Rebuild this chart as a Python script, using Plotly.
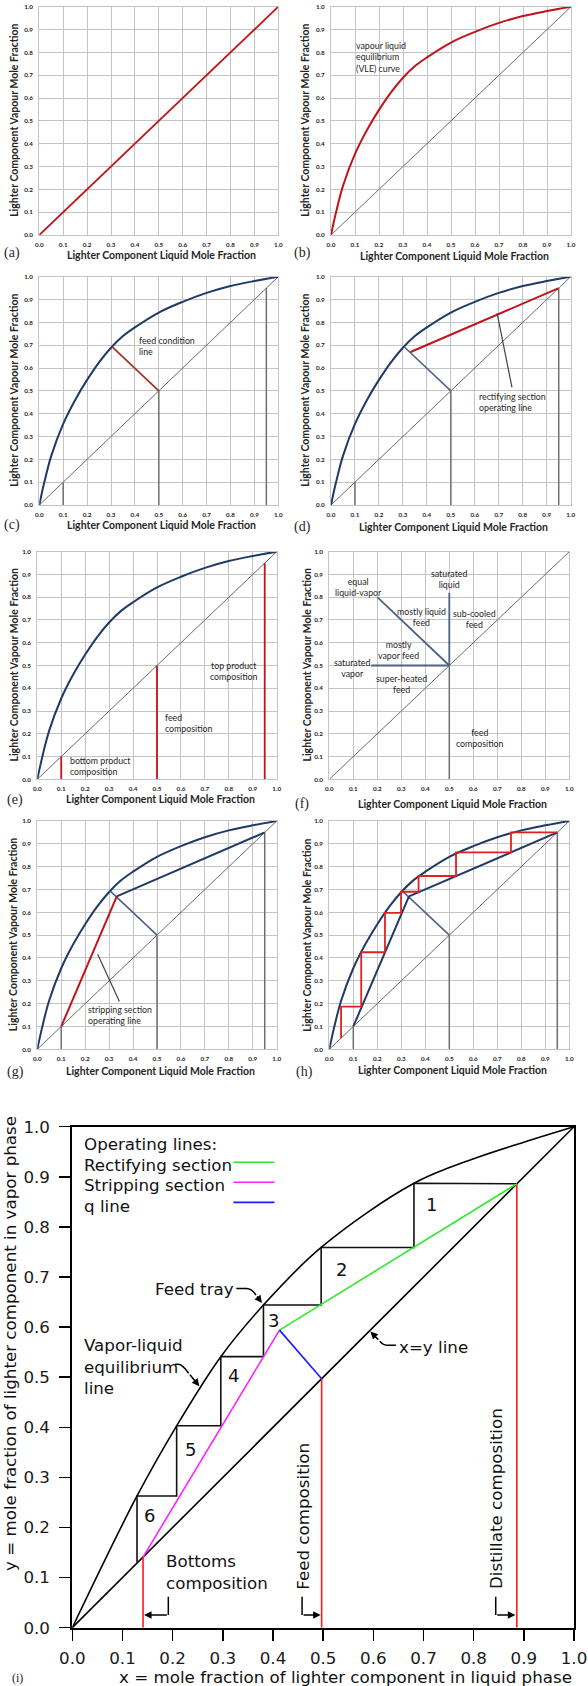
import plotly.graph_objects as go

W, H = 588, 1686

# ---------------- data: panels (a)-(h) ----------------
grid_ticks = [0.0, 0.1, 0.2, 0.3, 0.4, 0.5, 0.6, 0.7, 0.8, 0.9, 1.0]
tick_labels = ["0.0", "0.1", "0.2", "0.3", "0.4", "0.5", "0.6", "0.7", "0.8", "0.9", "1.0"]

diag_x = [0.0, 1.0]
diag_y = [0.0, 1.0]

vle_x = [0.0, 0.02, 0.05, 0.1, 0.15, 0.2, 0.25, 0.3, 0.35, 0.4, 0.5, 0.6, 0.7, 0.8, 0.9, 1.0]
vle_y = [0.0, 0.095, 0.215, 0.355, 0.46, 0.548, 0.625, 0.689, 0.74, 0.778, 0.843, 0.89, 0.929, 0.959, 0.981, 1.0]

x_bottom = 0.1
x_feed = 0.5
x_top = 0.95

q_x = [0.5, 0.305]
q_y = [0.5, 0.693]

rect_x = [0.332, 0.95]
rect_y = [0.67, 0.95]

strip_x = [0.1, 0.332]
strip_y = [0.1, 0.67]

stair_x = [0.95, 0.757, 0.757, 0.528, 0.528, 0.372, 0.372, 0.299, 0.299, 0.232, 0.232, 0.133, 0.133, 0.049, 0.049]
stair_y = [0.95, 0.95, 0.863, 0.863, 0.759, 0.759, 0.69, 0.69, 0.598, 0.598, 0.425, 0.425, 0.187, 0.187, 0.048]

# (f) feed condition lines
f_liquid_x = [0.5, 0.5]
f_liquid_y = [0.5, 0.82]
f_equal_x = [0.5, 0.2]
f_equal_y = [0.5, 0.8]
f_vapor_x = [0.5, 0.175]
f_vapor_y = [0.5, 0.5]

# ---------------- data: panel (i) ----------------
vle_i_x = [0.0, 0.129, 0.208, 0.296, 0.381, 0.496, 0.681, 0.8, 0.9, 1.0]
vle_i_y = [0.0, 0.263, 0.403, 0.541, 0.644, 0.759, 0.887, 0.936, 0.969, 1.0]

steps_i_x = [0.886, 0.681, 0.681, 0.496, 0.496, 0.381, 0.381, 0.296, 0.296, 0.208, 0.208, 0.129, 0.129]
steps_i_y = [0.886, 0.887, 0.759, 0.759, 0.644, 0.644, 0.541, 0.541, 0.403, 0.403, 0.263, 0.263, 0.13]

x_B = 0.141
x_F = 0.497
x_D = 0.886
q_i_x = [0.497, 0.413]
q_i_y = [0.497, 0.594]
rect_i_x = [0.413, 0.886]
rect_i_y = [0.594, 0.886]
strip_i_x = [0.141, 0.413]
strip_i_y = [0.141, 0.594]

stage_labels = ["1", "2", "3", "4", "5", "6"]
stage_x = [0.716, 0.537, 0.401, 0.321, 0.236, 0.153]
stage_y = [0.844, 0.715, 0.614, 0.504, 0.355, 0.223]

# ---------------- styles ----------------
NAVY = "#1f3a68"
SLATE = "#4e6283"
RED = "#c0141c"
BROWNRED = "#a3342a"
DIAG = "#6b6b6b"
VERT = "#707070"
GRID = "#c4c4c4"
TXT = "#262626"
SMALL_FONT = "Lato"
BIG_FONT = "DejaVu Sans"

fig = go.Figure()


def ax(k, c):
    return c if k == 1 else f"{c}{k}"


def add_line(k, xs, ys, color, width, shape="linear"):
    fig.add_trace(go.Scatter(
        x=xs, y=ys, mode="lines",
        line=dict(color=color, width=width, shape=shape, smoothing=1.0),
        xaxis=ax(k, "x"), yaxis=ax(k, "y"), showlegend=False, hoverinfo="skip"))


def add_vert(k, x, ytop, color, width):
    add_line(k, [x, x], [0.0, ytop], color, width)


# (a)
add_line(1, diag_x, diag_y, RED, 1.8)
# (b)
add_line(2, diag_x, diag_y, DIAG, 1.0)
add_line(2, vle_x, vle_y, RED, 2.0, "spline")
# (c)
add_line(3, diag_x, diag_y, DIAG, 1.0)
for xv in (x_bottom, x_feed, x_top):
    add_vert(3, xv, xv, VERT, 1.5)
add_line(3, vle_x, vle_y, NAVY, 2.0, "spline")
add_line(3, q_x, q_y, BROWNRED, 1.8)
# (d)
add_line(4, diag_x, diag_y, DIAG, 1.0)
for xv in (x_bottom, x_feed, x_top):
    add_vert(4, xv, xv, VERT, 1.5)
add_line(4, vle_x, vle_y, NAVY, 2.0, "spline")
add_line(4, q_x, q_y, SLATE, 1.6)
add_line(4, rect_x, rect_y, RED, 2.0)
# (e)
add_line(5, diag_x, diag_y, DIAG, 1.0)
add_line(5, vle_x, vle_y, NAVY, 2.0, "spline")
for xv in (x_bottom, x_feed, x_top):
    add_vert(5, xv, xv, RED, 1.8)
# (f)
add_line(6, diag_x, diag_y, DIAG, 1.0)
add_vert(6, x_feed, x_feed, VERT, 1.5)
add_line(6, f_liquid_x, f_liquid_y, SLATE, 1.8)
add_line(6, f_equal_x, f_equal_y, SLATE, 1.8)
add_line(6, f_vapor_x, f_vapor_y, SLATE, 1.8)
# (g)
add_line(7, diag_x, diag_y, DIAG, 1.0)
for xv in (x_bottom, x_feed, x_top):
    add_vert(7, xv, xv, VERT, 1.5)
add_line(7, vle_x, vle_y, NAVY, 2.0, "spline")
add_line(7, q_x, q_y, SLATE, 1.6)
add_line(7, rect_x, rect_y, NAVY, 2.0)
add_line(7, strip_x, strip_y, RED, 2.0)
# (h)
add_line(8, diag_x, diag_y, DIAG, 1.0)
for xv in (x_bottom, x_feed, x_top):
    add_vert(8, xv, xv, VERT, 1.5)
add_line(8, vle_x, vle_y, NAVY, 2.0, "spline")
add_line(8, q_x, q_y, SLATE, 1.6)
add_line(8, rect_x, rect_y, NAVY, 2.0)
add_line(8, strip_x, strip_y, NAVY, 2.0)
add_line(8, stair_x, stair_y, "#e0201e", 1.8)

# (i)
add_line(9, diag_x, diag_y, "#000000", 1.6)
add_line(9, vle_i_x, vle_i_y, "#000000", 1.6, "spline")
add_line(9, steps_i_x, steps_i_y, "#111111", 1.6)
for xv in (x_B, x_F, x_D):
    add_vert(9, xv, xv, "#ff1a1a", 1.6)
add_line(9, rect_i_x, rect_i_y, "#2ee82e", 1.6)
add_line(9, strip_i_x, strip_i_y, "#ff1fff", 1.6)
add_line(9, q_i_x, q_i_y, "#1a1aff", 1.6)

# ---------------- layout ----------------
panels = [
    # k, left, right, top, bottom (px), letter, letter pos, xtitle y, ytitle x
    (1, 39.3, 278.3, 6.7, 235.0, "(a)", (12, 253), 255, 14),
    (2, 331.0, 571.0, 6.7, 235.0, "(b)", (302, 253), 256, 305),
    (3, 39.3, 278.3, 276.7, 505.0, "(c)", (12, 525), 525, 14),
    (4, 331.0, 570.7, 276.7, 505.0, "(d)", (302, 526.7), 526.7, 305),
    (5, 37.3, 276.7, 551.7, 779.3, "(e)", (15, 800), 799, 13),
    (6, 329.3, 569.3, 551.7, 779.3, "(f)", (302, 804), 804, 306),
    (7, 37.3, 276.7, 821.0, 1049.3, "(g)", (15, 1071.7), 1071, 13),
    (8, 329.3, 569.3, 821.0, 1049.3, "(h)", (304, 1071.7), 1070, 306.7),
]

annotations = []
shapes = []
layout_axes = {}


def px(x):
    return x / W


def py(y):
    return 1 - y / H


for k, l, r, t, b, letter, lpos, xt_y, yt_x in panels:
    common = dict(range=[0, 1], showgrid=True, gridcolor=GRID, gridwidth=1,
                  tickvals=grid_ticks, ticktext=tick_labels, zeroline=False,
                  showline=True, linecolor=GRID, linewidth=1, mirror=True,
                  ticks="", fixedrange=True, automargin=False,
                  tickfont=dict(family=SMALL_FONT, size=6.3, color=TXT, weight="bold"))
    layout_axes["xaxis" if k == 1 else f"xaxis{k}"] = dict(
        domain=[px(l), px(r)], anchor=ax(k, "y"), ticklabelstandoff=3, **common)
    layout_axes["yaxis" if k == 1 else f"yaxis{k}"] = dict(
        domain=[py(b), py(t)], anchor=ax(k, "x"), ticklabelstandoff=4, **common)
    annotations.append(dict(
        text="Lighter Component Liquid Mole Fraction", xref="paper", yref="paper",
        x=px((l + r) / 2 + 3), y=py(xt_y), xanchor="center", yanchor="middle",
        showarrow=False, font=dict(family=SMALL_FONT, size=10.5, color=TXT, weight="bold")))
    annotations.append(dict(
        text="Lighter Component Vapour Mole Fraction", xref="paper", yref="paper",
        x=px(yt_x), y=py((t + b) / 2), xanchor="center", yanchor="middle", textangle=-90,
        showarrow=False, font=dict(family=SMALL_FONT, size=10.5, color=TXT, weight="bold")))
    annotations.append(dict(
        text=letter, xref="paper", yref="paper", x=px(lpos[0]), y=py(lpos[1]),
        xanchor="center", yanchor="middle", showarrow=False,
        font=dict(family="Liberation Serif", size=14, color=TXT)))

# panel (i) axes
big_tick = dict(family=BIG_FONT, size=16.7, color="#1a1a1a")
layout_axes["xaxis9"] = dict(
    domain=[px(72.3), px(574.0)], anchor="y9", range=[0, 1], tickvals=grid_ticks,
    ticktext=tick_labels, showgrid=False, zeroline=False, showline=True, linecolor="#000000",
    linewidth=2, mirror=True, ticks="outside", ticklen=11, tickwidth=1.5, tickcolor="#000000",
    tickfont=big_tick, ticklabelstandoff=3, fixedrange=True, automargin=False)
layout_axes["yaxis9"] = dict(
    domain=[py(1627.7), py(1126.7)], anchor="x9", range=[0, 1], tickvals=grid_ticks,
    ticktext=tick_labels, showgrid=False, zeroline=False, showline=True, linecolor="#000000",
    linewidth=2, mirror=True, ticks="outside", ticklen=11, tickwidth=1.5, tickcolor="#000000",
    tickfont=big_tick, ticklabelstandoff=6, fixedrange=True, automargin=False)


def note(k, text, x, y, size=8.8, xanchor="left", align="left"):
    annotations.append(dict(
        text=text, xref=ax(k, "x"), yref=ax(k, "y"), x=x, y=y, xanchor=xanchor,
        yanchor="middle", align=align, showarrow=False,
        font=dict(family=SMALL_FONT, size=size, color=TXT)))


note(2, "vapour liquid<br>equilibrium<br>(VLE) curve", 0.097, 0.779)
note(3, "feed condition<br>line", 0.41, 0.698)
note(4, "rectifying section<br>operating line", 0.61, 0.452)
note(5, "bottom product<br>composition", 0.13, 0.057)
note(5, "feed<br>composition", 0.527, 0.246)
note(5, "top product<br>composition", 0.823, 0.475, xanchor="center", align="center")
for text, xx, yy in [
    ("saturated<br>liquid", 0.5, 0.881),
    ("equal<br>liquid-vapor", 0.12, 0.844),
    ("mostly liquid<br>feed", 0.385, 0.715),
    ("sub-cooled<br>feed", 0.604, 0.705),
    ("mostly<br>vapor feed", 0.287, 0.567),
    ("saturated<br>vapor", 0.093, 0.49),
    ("super-heated<br>feed", 0.30, 0.42),
    ("feed<br>composition", 0.628, 0.183),
]:
    note(6, text, xx, yy, xanchor="center", align="center")
note(7, "stripping section<br>operating line", 0.203, 0.1485)

# pointer lines
shapes.append(dict(type="line", xref="x4", yref="y4", x0=0.755, y0=0.515, x1=0.693, y1=0.84,
                   line=dict(color="#444444", width=1.2)))
shapes.append(dict(type="line", xref="x7", yref="y7", x0=0.343, y0=0.209, x1=0.252, y1=0.416,
                   line=dict(color="#444444", width=1.2)))

# ---- panel (i) annotations ----
big = dict(family=BIG_FONT, size=16.7, color="#111111")


def bnote(text, x, y, xanchor="left", textangle=0, size=None):
    f = dict(big)
    if size:
        f["size"] = size
    annotations.append(dict(text=text, xref="x9", yref="y9", x=x, y=y, xanchor=xanchor,
                            yanchor="middle", align="left", showarrow=False, font=f,
                            textangle=textangle))


bnote("Operating lines:", 0.019, 0.965)
bnote("Rectifying section", 0.019, 0.924)
bnote("Stripping section", 0.019, 0.883)
bnote("q line", 0.019, 0.841)
for yy, col in [(0.929, "#2ee82e"), (0.889, "#ff1fff"), (0.849, "#1a1aff")]:
    shapes.append(dict(type="line", xref="x9", yref="y9", x0=0.321, x1=0.403, y0=yy, y1=yy,
                       line=dict(color=col, width=1.6)))

bnote("Feed tray", 0.326, 0.677, xanchor="right")
bnote("Vapor-liquid<br>equilibrium<br>line", 0.019, 0.522)
bnote("x=y line", 0.647, 0.561)
bnote("Bottoms<br>composition", 0.183, 0.111)
bnote("Feed composition", 0.46, 0.2216, xanchor="center", textangle=-90)
bnote("Distillate composition", 0.8446, 0.257, xanchor="center", textangle=-90)
for s, xx, yy in zip(stage_labels, stage_x, stage_y):
    bnote(s, xx, yy, xanchor="center", size=18)

# hooks / brackets
hook_paths = [
    "M 0.327 0.677 L 0.347 0.677 Q 0.358 0.677 0.366 0.664",
    "M 0.2046 0.526 L 0.2113 0.526 Q 0.219 0.526 0.232 0.508",
    "M 0.645 0.564 L 0.627 0.564 Q 0.619 0.564 0.613 0.572",
    "M 0.1914 0.062 L 0.1914 0.0253",
    "M 0.458 0.062 L 0.458 0.0253",
    "M 0.844 0.062 L 0.844 0.0253",
]
for p in hook_paths:
    shapes.append(dict(type="path", xref="x9", yref="y9", path=p,
                       line=dict(color="#000000", width=1.5)))
arrows = [
    ((0.366, 0.664), (0.378, 0.648)),
    ((0.232, 0.508), (0.2533, 0.482)),
    ((0.613, 0.572), (0.594, 0.591)),
    ((0.1914, 0.0253), (0.143, 0.0253)),
    ((0.458, 0.0253), (0.495, 0.0253)),
    ((0.844, 0.0253), (0.883, 0.0253)),
]
for (tx, ty), (hx, hy) in arrows:
    annotations.append(dict(text="", xref="x9", yref="y9", x=hx, y=hy, axref="x9", ayref="y9",
                            ax=tx, ay=ty, showarrow=True, arrowhead=2, arrowsize=1,
                            arrowwidth=1.5, arrowcolor="#000000", standoff=0))

# axis titles for (i)
annotations.append(dict(text="x = mole fraction of lighter component in liquid phase",
                        xref="paper", yref="paper", x=px(345.5), y=py(1677), xanchor="center",
                        yanchor="middle", showarrow=False, font=big))
annotations.append(dict(text="y = mole fraction of lighter component in vapor phase",
                        xref="paper", yref="paper", x=px(9.5), y=py(1343.5), xanchor="center",
                        yanchor="middle", textangle=-90, showarrow=False, font=big))
annotations.append(dict(text="(i)", xref="paper", yref="paper", x=px(17), y=py(1678),
                        xanchor="center", yanchor="middle", showarrow=False,
                        font=dict(family="Liberation Serif", size=12, color=TXT)))

fig.update_layout(
    width=W, height=H, autosize=False,
    margin=dict(l=0, r=0, t=0, b=0, pad=0, autoexpand=False),
    paper_bgcolor="#ffffff", plot_bgcolor="#ffffff",
    showlegend=False, annotations=annotations, shapes=shapes,
    **layout_axes)

fig.write_html(
    "out.html",
    config={"displayModeBar": False, "staticPlot": True},
    post_script="document.body.style.margin='0';document.body.style.padding='0';"
                "document.documentElement.style.overflow='hidden';")
